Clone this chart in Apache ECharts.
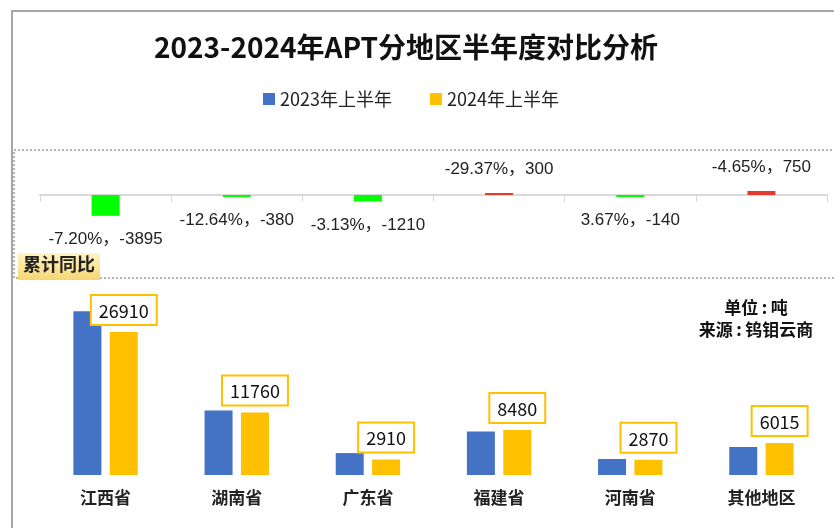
<!DOCTYPE html>
<html>
<head>
<meta charset="utf-8">
<title>2023-2024年APT分地区半年度对比分析</title>
<script src="https://cdn.jsdelivr.net/npm/echarts@6/dist/echarts.min.js"></script>
<style>
  html, body { margin: 0; padding: 0; background: #fff; }
  #chart { width: 834px; height: 528px; }
</style>
</head>
<body>
<div id="chart"></div>
<script>
// 地区
var regions = ["江西省", "湖南省", "广东省", "福建省", "河南省", "其他地区"];
// 上半年产量（吨）
var h1_2023 = [30805, 12140, 4120, 8180, 3010, 5265];
var h1_2024 = [26910, 11760, 2910, 8480, 2870, 6015];
// 同比增减量（吨）
var diffTon = [-3895, -380, -1210, 300, -140, 750];
// 累计同比
var yoyText = ["-7.20%", "-12.64%", "-3.13%", "-29.37%", "3.67%", "-4.65%"];

var FONT = '"Noto Sans CJK SC", "Noto Sans", sans-serif';

var chart = echarts.init(document.getElementById("chart"));

// 顶部增减柱：负绿正红
var diffData = diffTon.map(function (v, i) {
  return {
    value: v,
    itemStyle: { color: v < 0 ? "#00ff00" : "#e23b2e" },
    label: { formatter: yoyText[i] + "，" + v }
  };
});

chart.setOption({
  backgroundColor: "#ffffff",
  animation: false,
  title: {
    text: "2023-2024年APT分地区半年度对比分析",
    left: 149,
    top: 28,
    textStyle: { fontFamily: FONT, fontSize: 28, fontWeight: "bold", color: "#111" }
  },
  legend: {
    left: 258,
    top: 85,
    itemWidth: 12,
    itemHeight: 12,
    itemGap: 38,
    icon: "rect",
    textStyle: { fontFamily: FONT, fontSize: 18, color: "#222" },
    data: ["2023年上半年", "2024年上半年"]
  },
  graphic: [
    // 外框（上、左）
    { type: "line", shape: { x1: 11, y1: 11, x2: 834, y2: 11 }, style: { stroke: "#a6a6a6", lineWidth: 2 } },
    { type: "line", shape: { x1: 12, y1: 11, x2: 12, y2: 528 }, style: { stroke: "#a6a6a6", lineWidth: 2 } },
    // 虚线框
    {
      type: "rect", z: -1,
      shape: { x: 14, y: 150, width: 830, height: 128 },
      style: { fill: null, stroke: "#b4b4b4", lineWidth: 2, lineDash: [2, 2] }
    },
    // 累计同比 标签
    {
      type: "rect",
      shape: { x: 18, y: 253, width: 82, height: 27 },
      style: {
        fill: new echarts.graphic.LinearGradient(0, 0, 0, 1, [
          { offset: 0, color: "#fff4c4" },
          { offset: 1, color: "#f6d670" }
        ])
      }
    },
    {
      type: "text", left: 23, top: 255,
      style: { text: "累计同比", font: "bold 18px " + FONT, fill: "#222" }
    },
    // 单位 / 来源
    {
      type: "text", x: 756, y: 299,
      style: { text: "单位\u2009:\u2009吨", font: "bold 17px " + FONT, fill: "#111", textAlign: "center" }
    },
    {
      type: "text", x: 756, y: 321,
      style: { text: "来源\u2009:\u2009钨钼云商", font: "bold 17px " + FONT, fill: "#111", textAlign: "center" }
    }
  ],
  grid: [
    { left: 40, right: 7, top: 165, height: 60 },
    { left: 40, right: 7, top: 289, bottom: 53 }
  ],
  xAxis: [
    {
      type: "category", gridIndex: 0, data: regions,
      axisLine: { lineStyle: { color: "#d9d9d9", width: 2 } },
      axisTick: { show: true, length: 7, lineStyle: { color: "#d9d9d9" } },
      axisLabel: { show: false }
    },
    {
      type: "category", gridIndex: 1, data: regions,
      axisLine: { show: false },
      axisTick: { show: false },
      axisLabel: { margin: 14, fontFamily: FONT, fontSize: 17, fontWeight: "bold", color: "#222" }
    }
  ],
  yAxis: [
    { type: "value", gridIndex: 0, min: -5600, max: 5600, show: false, splitLine: { show: false } },
    { type: "value", gridIndex: 1, min: 0, max: 35000, show: false, splitLine: { show: false } }
  ],
  series: [
    {
      name: "同比增减",
      type: "bar",
      xAxisIndex: 0, yAxisIndex: 0,
      barWidth: 28,
      barMinHeight: 2,
      data: diffData,
      label: {
        show: true,
        position: "outside",
        distance: 15,
        fontFamily: '"Liberation Sans", "Noto Sans CJK SC", sans-serif',
        fontSize: 17,
        color: "#222"
      }
    },
    {
      name: "2023年上半年",
      type: "bar",
      xAxisIndex: 1, yAxisIndex: 1,
      barWidth: 28,
      barGap: "30%",
      itemStyle: { color: "#4472c4" },
      data: h1_2023
    },
    {
      name: "2024年上半年",
      type: "bar",
      xAxisIndex: 1, yAxisIndex: 1,
      barWidth: 28,
      barGap: "30%",
      itemStyle: { color: "#ffc000" },
      data: h1_2024,
      label: {
        show: true,
        position: "top",
        distance: 8,
        fontFamily: FONT,
        fontSize: 18,
        color: "#111",
        backgroundColor: "#fff",
        borderColor: "#ffc000",
        borderWidth: 2,
        padding: [6, 7, 4, 7]
      }
    }
  ]
});
</script>
</body>
</html>
